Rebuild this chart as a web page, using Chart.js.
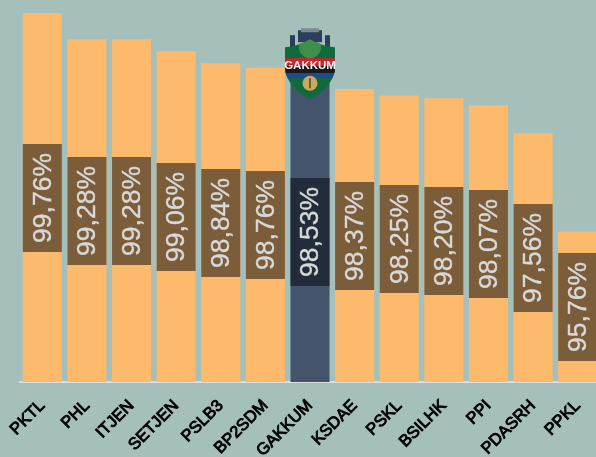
<!DOCTYPE html>
<html>
<head>
<meta charset="utf-8">
<style>
  html, body { margin: 0; padding: 0; width: 596px; height: 457px; overflow: hidden; background: #a5c0ba; }
  canvas { display: block; }
</style>
<script src="https://cdn.jsdelivr.net/npm/chart.js@4"></script>
</head>
<body>
<canvas id="grafico" width="600" height="457"></canvas>
<script>
const unidades = ["PKTL", "PHL", "ITJEN", "SETJEN", "PSLB3", "BP2SDM", "GAKKUM", "KSDAE", "PSKL", "BSILHK", "PPI", "PDASRH", "PPKL"];
const nilai = [99.76, 99.28, 99.28, 99.06, 98.84, 98.76, 98.53, 98.37, 98.25, 98.20, 98.07, 97.56, 95.76];
const unitSorot = "GAKKUM";

const warnaBatang = unidades.map(u => u == unitSorot ? "#44546a" : "#fdba6c");
const warnaKotak = unidades.map(u => u == unitSorot ? "#222c3a" : "#7b5d3a");

// kotak gelap + persen yang diputar di tengah batang
const labelKotak = {
  id: "labelKotak",
  afterDraw(chart) {
    const ctx = chart.ctx;
    const bawah = chart.chartArea.bottom;
    chart.getDatasetMeta(0).data.forEach((bar, i) => {
      const tengah = Math.round((bar.y + bawah) / 2 + 0.5);
      ctx.save();
      ctx.fillStyle = warnaKotak[i];
      ctx.fillRect(bar.x - 19.5, tengah - 54, 39, 108);
      ctx.translate(bar.x, tengah);
      ctx.rotate(-Math.PI / 2);
      ctx.fillStyle = "#d9d9d9";
      ctx.strokeStyle = "#d9d9d9";
      ctx.lineWidth = 0.4;
      ctx.font = "26.5px 'Liberation Sans'";
      ctx.textAlign = "center";
      ctx.textBaseline = "middle";
      ctx.fillText(nilai[i].toFixed(2).replace(".", ",") + "%", 0, 1);
      ctx.strokeText(nilai[i].toFixed(2).replace(".", ",") + "%", 0, 1);
      ctx.restore();
    });
  }
};

// lambang di atas batang GAKKUM
const lambang = {
  id: "lambang",
  afterDraw(chart) {
    const bar = chart.getDatasetMeta(0).data[unidades.indexOf(unitSorot)];
    const ctx = chart.ctx;
    ctx.save();
    ctx.translate(bar.x, bar.y - 52);

    // siluet kota
    ctx.fillStyle = "#2b3f5c";
    ctx.fillRect(-20, 7, 5, 14);
    ctx.fillRect(15, 7, 5, 14);
    ctx.fillRect(-12, 2, 24, 12);
    ctx.fillStyle = "#7d8b92";
    ctx.fillRect(-9, 0, 18, 4);

    // perisai
    ctx.beginPath();
    ctx.moveTo(-25, 19);
    ctx.quadraticCurveTo(-12, 18, 0, 11);
    ctx.quadraticCurveTo(12, 18, 25, 19);
    ctx.lineTo(25, 42);
    ctx.quadraticCurveTo(22, 59, 0, 71);
    ctx.quadraticCurveTo(-22, 59, -25, 42);
    ctx.closePath();
    ctx.fillStyle = "#0f6b3c";
    ctx.fill();
    ctx.save();
    ctx.clip();
    ctx.fillStyle = "#3f8f4a";
    ctx.beginPath();
    ctx.arc(0, 19, 11, 0, Math.PI * 2);
    ctx.fill();
    ctx.fillStyle = "#d3202a";
    ctx.fillRect(-25, 30, 50, 8);
    ctx.fillStyle = "#1a1a1a";
    ctx.fillRect(-25, 38, 50, 7);
    ctx.fillStyle = "#1f4a8c";
    ctx.fillRect(-25, 45, 50, 5);
    ctx.restore();
    ctx.fillStyle = "#c9a860";
    ctx.beginPath();
    ctx.arc(0, 55, 7.5, 0, Math.PI * 2);
    ctx.fill();
    ctx.fillStyle = "#7a5c2a";
    ctx.fillRect(-1, 50, 2, 10);

    ctx.fillStyle = "#f4f4f4";
    ctx.font = "bold 11.5px 'Liberation Sans'";
    ctx.textAlign = "center";
    ctx.textBaseline = "middle";
    ctx.fillText(unitSorot, 0, 38);
    ctx.restore();
  }
};

new Chart(document.getElementById("grafico"), {
  type: "bar",
  data: {
    labels: unidades,
    datasets: [{
      data: nilai,
      backgroundColor: warnaBatang,
      categoryPercentage: 1,
      barPercentage: 0.875
    }]
  },
  options: {
    responsive: false,
    animation: false,
    layout: { padding: { left: 20, right: 0, top: 0, bottom: 0 } },
    plugins: { legend: { display: false }, tooltip: { enabled: false } },
    scales: {
      y: { display: false, min: 93, max: 100 },
      x: {
        afterFit: s => { s.height = 75; },
        grid: { display: false },
        border: { color: "#dcdfdc", width: 2 },
        ticks: {
          autoSkip: false,
          maxRotation: 45,
          minRotation: 45,
          padding: 6,
          color: "#000",
          textStrokeColor: "#000",
          textStrokeWidth: 0.9,
          font: { family: "'Liberation Sans'", size: 16.5 }
        }
      }
    }
  },
  plugins: [labelKotak, lambang]
});
</script>
</body>
</html>
